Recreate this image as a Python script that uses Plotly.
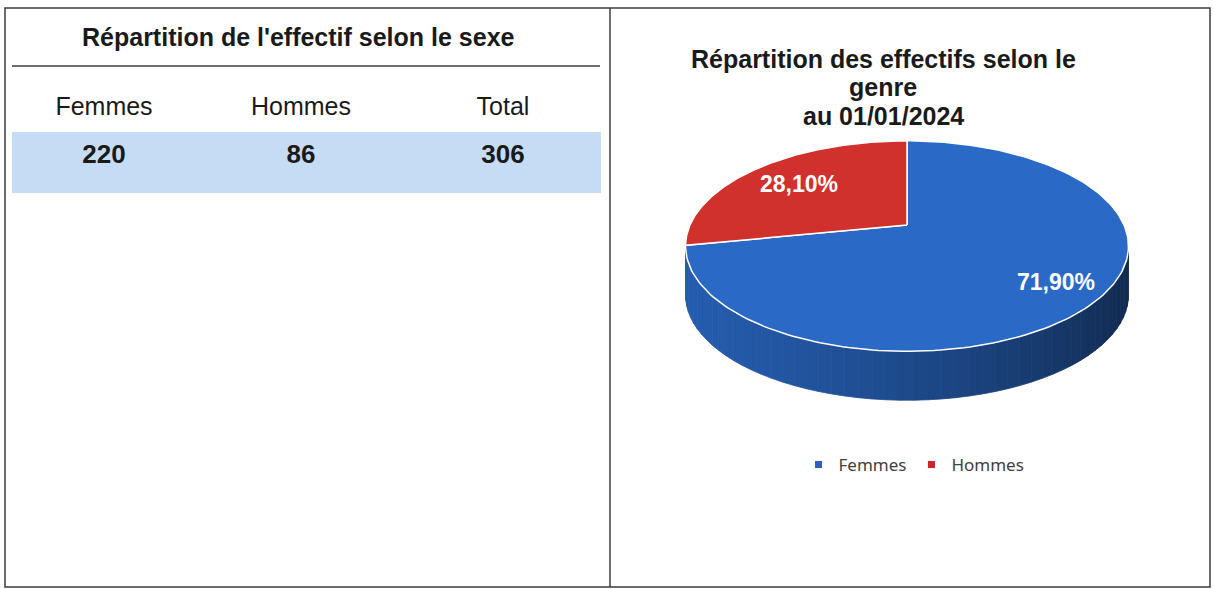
import numpy as np
import plotly.graph_objects as go

# ---------------- data ----------------
CATEGORIES = ["Femmes", "Hommes"]
EFFECTIFS = [220, 86]
TABLE_HEADERS = ["Femmes", "Hommes", "Total"]
TABLE_TITLE = "Répartition de l'effectif selon le sexe"
PIE_TITLE_LINES = ["Répartition des effectifs selon le", "genre", "au 01/01/2024"]

TOTAL = sum(EFFECTIFS)
TABLE_VALUES = EFFECTIFS + [TOTAL]

# ---------------- style / geometry ----------------
W, H = 1214, 589
OFF = 0                    # page body margin (removed by post_script)
CX, CY = 907, 225          # pie apex (pixels)
RX, RY = 217, 101          # pie radii (pixels)
PERSP = 0.2                # perspective strength
DEPTH = 49                 # thickness of the 3D pie
LABEL_R = [0.8, 0.7]
TOP_COLORS = [(42, 105, 198), (208, 49, 45)]
LEGEND_COLORS = ["#2f5fbf", "#c9252b"]
TEXT = "#1a1a1a"
FONT = "Liberation Sans"


def px_x(p):
    return (p - OFF) / W


def px_y(p):
    return 1 - (p - OFF) / H


def proj(theta, r=1.0, dz=0.0):
    c = np.cos(theta)
    s = np.sin(theta)
    k = 1.0 / (1.0 + PERSP * r * c)
    return CX + RX * r * s * k, CY - RY * r * c * k + dz


def rgb(c, f=1.0):
    return "rgb({},{},{})".format(*[int(round(v * f)) for v in c])


fig = go.Figure()

# ---------- pie angles from data ----------
fracs = np.array(EFFECTIFS, dtype=float) / TOTAL
ends = np.cumsum(fracs) * 2 * np.pi
starts = np.concatenate([[0.0], ends[:-1]])

# ---------- 3D side (front arc only) ----------
th1 = np.arccos(-PERSP)
th2 = 2 * np.pi - th1
for i in range(len(CATEGORIES)):
    a = max(starts[i], th1)
    b = min(ends[i], th2)
    if b <= a:
        continue
    nstrip = max(1, int(np.ceil((b - a) / np.radians(3))))
    edges = np.linspace(a, b, nstrip + 1)
    for j in range(nstrip):
        tt = np.linspace(edges[j], edges[j + 1], 6)
        xt, yt = proj(tt)
        xb, yb = proj(tt[::-1], dz=DEPTH)
        mid = 0.5 * (edges[j] + edges[j + 1])
        t = ((np.sin(mid) + 1) / 2) ** 1.5
        col = rgb(TOP_COLORS[i], 0.88 - 0.5 * t)
        fig.add_trace(go.Scatter(
            x=np.concatenate([xt, xb, xt[:1]]), y=np.concatenate([yt, yb, yt[:1]]),
            mode="lines", fill="toself", fillcolor=col,
            line=dict(color=col, width=0.8), hoverinfo="skip", showlegend=False))

# ---------- top faces ----------
for i, cat in enumerate(CATEGORIES):
    tt = np.linspace(starts[i], ends[i], 200)
    xs, ys = proj(tt)
    x = np.concatenate([[CX], xs, [CX]])
    y = np.concatenate([[CY], ys, [CY]])
    fig.add_trace(go.Scatter(
        x=x, y=y, mode="lines", fill="toself", fillcolor=rgb(TOP_COLORS[i]),
        line=dict(color="white", width=1.5), name=cat, hoverinfo="skip",
        showlegend=False))

# ---------- percentage labels ----------
for i in range(len(CATEGORIES)):
    mid = 0.5 * (starts[i] + ends[i])
    lx, ly = proj(mid, r=LABEL_R[i])
    pct = ("%.2f" % (fracs[i] * 100)).replace(".", ",") + "%"
    fig.add_annotation(x=lx, y=ly, xref="x", yref="y", text="<b>%s</b>" % pct,
                       showarrow=False, font=dict(family=FONT, size=23, color="white"))

# ---------- legend entries ----------
for i, cat in enumerate(CATEGORIES):
    fig.add_trace(go.Scatter(x=[None], y=[None], mode="markers", name=cat,
                             marker=dict(symbol="square", size=7, color=LEGEND_COLORS[i])))

# ---------- table ----------
fig.add_trace(go.Table(
    domain=dict(x=[px_x(12), px_x(600)], y=[px_y(200), px_y(88)]),
    columnwidth=[184, 210, 194],
    header=dict(values=TABLE_HEADERS, fill_color="white", line=dict(color="white", width=1),
                align="center", height=43,
                font=dict(family=FONT, size=25, color=TEXT)),
    cells=dict(values=[["<b>%d</b>" % v] for v in TABLE_VALUES],
               fill_color="#c6dcf5", line=dict(color="#c6dcf5", width=1),
               align="center", height=61,
               font=dict(family=FONT, size=26, color=TEXT)),
))

# ---------- titles ----------
fig.add_annotation(x=298, y=37, xref="x", yref="y", text="<b>%s</b>" % TABLE_TITLE,
                   showarrow=False, font=dict(family=FONT, size=25, color=TEXT))
for k, (line, yy) in enumerate(zip(PIE_TITLE_LINES, [59, 87, 116])):
    fig.add_annotation(x=883, y=yy, xref="x", yref="y", text="<b>%s</b>" % line,
                       showarrow=False, font=dict(family=FONT, size=25, color=TEXT))

# ---------- frames ----------
frame = dict(color="#3c3c3c", width=1.5)
fig.add_shape(type="rect", x0=5, x1=1210, y0=8, y1=587, xref="x", yref="y", line=frame)
fig.add_shape(type="line", x0=610, x1=610, y0=8, y1=587, xref="x", yref="y", line=frame)
fig.add_shape(type="line", x0=12, x1=600, y0=66, y1=66, xref="x", yref="y",
              line=dict(color="#3c3c3c", width=1.5))

fig.update_layout(
    width=W, height=H, margin=dict(l=0, r=0, t=0, b=0),
    paper_bgcolor="white", plot_bgcolor="white",
    xaxis=dict(range=[OFF, W + OFF], visible=False, domain=[0, 1], fixedrange=True),
    yaxis=dict(range=[H + OFF, OFF], visible=False, domain=[0, 1], fixedrange=True),
    legend=dict(orientation="h", x=px_x(914), xanchor="center", y=px_y(465),
                yanchor="middle", font=dict(family="Noto Sans", size=17, color="#404040"),
                bgcolor="rgba(0,0,0,0)"),
    showlegend=True,
)

fig.write_html("out.html",
               config={"displayModeBar": False},
               post_script="document.body.style.margin='0';"
                           "document.body.style.overflow='hidden';")
